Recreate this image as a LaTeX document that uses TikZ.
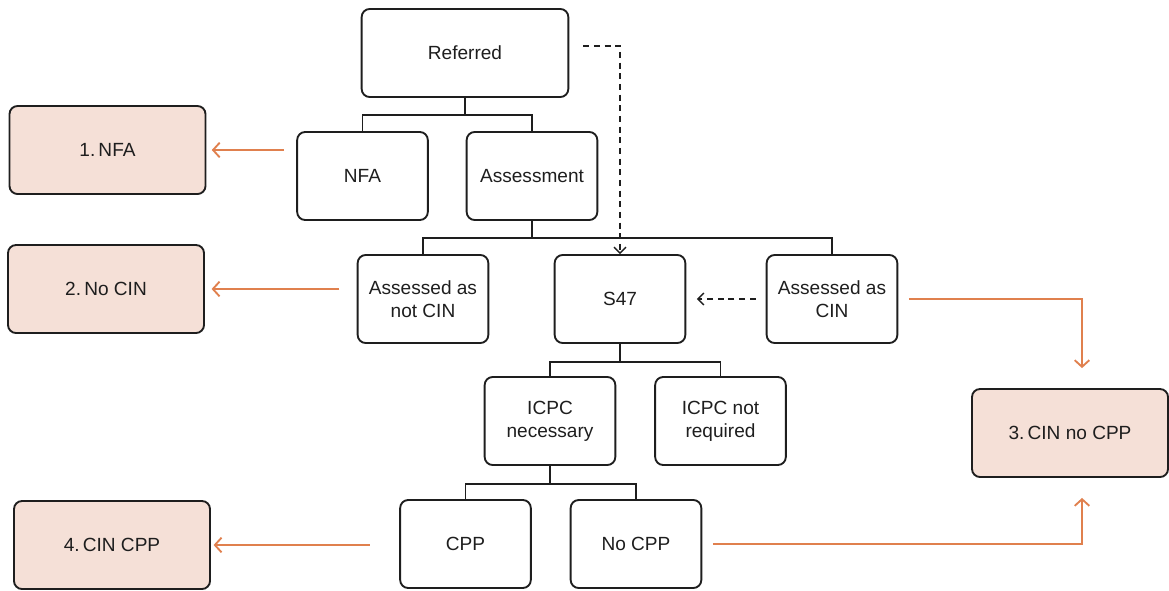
\documentclass[tikz,border=0pt]{standalone}
\usepackage{fontspec}
\setmainfont{Liberation Sans}
\usetikzlibrary{arrows.meta,positioning}
\definecolor{outfill}{RGB}{245,224,215}
\definecolor{orangeln}{RGB}{224,128,78}
\definecolor{ink}{RGB}{30,30,30}

\begin{document}
\begin{tikzpicture}[x=0.75pt,y=-0.75pt,
  stagebox/.style={draw=ink,line width=1.4pt,rounded corners=6pt,
               minimum width=98pt,minimum height=66pt,align=center,
               font=\fontsize{14.3}{17}\selectfont,text=ink},
  outcome/.style={stagebox,fill=outfill,minimum width=147pt},
  treeline/.style={draw=ink,line width=1.3pt},
  dashlink/.style={ink,line width=1pt,dash pattern=on 4.5pt off 3.5pt,
               -{Straight Barb[length=4.5pt,width=9pt]}},
  orarr/.style={orangeln,line width=1.4pt,-{Straight Barb[length=5pt,width=11pt]}},
]
  \useasboundingbox (0,0) rectangle (1169,590);

  \node[stagebox,minimum width=155pt] (ref) at (465,53) {Referred};
  \node[stagebox] (nfa)    at (362.5,176) {NFA};
  \node[stagebox] (assess) at (532,176)   {Assessment};
  \node[stagebox] (notcin) at (423,299)   {Assessed as\\not CIN};
  \node[stagebox] (s47)    at (620,299)   {S47};
  \node[stagebox] (ascin)  at (832,299)   {Assessed as\\CIN};
  \node[stagebox] (icpcn)  at (550,421)   {ICPC\\necessary};
  \node[stagebox] (icpcnr) at (720.5,421) {ICPC not\\required};
  \node[stagebox] (cpp)    at (465.5,544) {CPP};
  \node[stagebox] (nocpp)  at (636,544)   {No CPP};

  \node[outcome] (out1) at (107.5,150) {1.\,NFA};
  \node[outcome] (out2) at (106,289)   {2.\,No CIN};
  \node[outcome] (out3) at (1070,433)  {3.\,CIN no CPP};
  \node[outcome] (out4) at (112,545)   {4.\,CIN CPP};

  % tree links
  \draw[treeline] (ref.south) -- ++(0,17) -| (nfa.north);
  \draw[treeline] (ref.south) -- ++(0,17) -| (assess.north);
  \draw[treeline] (assess.south) -- ++(0,17) -| (notcin.north);
  \draw[treeline] (assess.south) -- ++(0,17) -| (ascin.north);
  \draw[treeline] (s47.south) -- ++(0,18) -| (icpcn.north);
  \draw[treeline] (s47.south) -- ++(0,18) -| (icpcnr.north);
  \draw[treeline] (icpcn.south) -- ++(0,18) -| (cpp.north);
  \draw[treeline] (icpcn.south) -- ++(0,18) -| (nocpp.north);

  % dashed links to S47
  \draw[dashlink] ([shift={(14,-7)}]ref.east) -| (s47.north);
  \draw[dashlink,shorten <=7.5pt,shorten >=8pt] (ascin.west) -- (s47.east);

  % outcomes
  \draw[orarr,shorten <=9pt,shorten >=4pt] (nfa.west |- out1.east) -- (out1.east);
  \draw[orarr,shorten <=13pt,shorten >=5pt] (notcin.west |- out2.east) -- (out2.east);
  \draw[orarr,shorten <=22pt,shorten >=2pt] (cpp.west |- out4.east) -- (out4.east);
  \draw[orarr,shorten <=8pt] (ascin.east) -| ([shift={(12,-20)}]out3.north);
  \draw[orarr,shorten <=8pt] (nocpp.east) -| ([shift={(12,20)}]out3.south);
\end{tikzpicture}
\end{document}
